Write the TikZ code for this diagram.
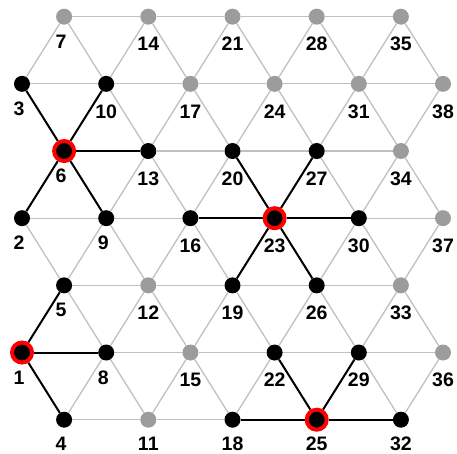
\documentclass[tikz,border=0pt]{standalone}
\usepackage{fontspec}
\setmainfont{Liberation Sans}
\usetikzlibrary{backgrounds}
\definecolor{edgegray}{HTML}{C0C0C0}
\definecolor{nodegray}{HTML}{9C9C9C}
\begin{document}
\begin{tikzpicture}[x=1pt,y=1pt,
  dot/.style={circle,inner sep=0pt,minimum size=16pt,fill=black},
  gdot/.style={circle,inner sep=0pt,minimum size=16pt,fill=nodegray},
  hub/.style={circle,inner sep=0pt,minimum size=20pt,fill=black,draw=red,line width=4pt},
  lab/.style={inner sep=0pt,font=\fontsize{19.5}{21}\selectfont\bfseries},
  gedge/.style={draw=edgegray,line width=1.3pt},
  bedge/.style={draw=black,line width=2pt}]
\useasboundingbox (0,0) rectangle (457,453);
\foreach \n/\c/\r/\s in {1/0/1/hub,2/0/3/dot,3/0/5/dot,4/1/0/dot,5/1/2/dot,6/1/4/hub,7/1/6/gdot,
  8/2/1/dot,9/2/3/dot,10/2/5/dot,11/3/0/gdot,12/3/2/gdot,13/3/4/dot,14/3/6/gdot,
  15/4/1/gdot,16/4/3/dot,17/4/5/gdot,18/5/0/dot,19/5/2/dot,20/5/4/dot,21/5/6/gdot,
  22/6/1/dot,23/6/3/hub,24/6/5/gdot,25/7/0/hub,26/7/2/dot,27/7/4/dot,28/7/6/gdot,
  29/8/1/dot,30/8/3/dot,31/8/5/gdot,32/9/0/dot,33/9/2/gdot,34/9/4/gdot,35/9/6/gdot,
  36/10/1/gdot,37/10/3/gdot,38/10/5/gdot}{
  \node[\s] (n\n) at ({22+42.1*\c},{33.3+67.17*\r}) {};
  \ifnum\r=0
    \ifnum\n<10
      \node[lab] (l\n) at ({22+42.1*\c-3},{33.3-24}) {\n};
    \else
      \node[lab] (l\n) at ({22+42.1*\c},{33.3-24}) {\n};
    \fi
  \else
    \ifnum\n<10
      \node[lab] (l\n) at ({22+42.1*\c-3},{33.3+67.17*\r-25}) {\n};
    \else
      \node[lab] (l\n) at ({22+42.1*\c},{33.3+67.17*\r-27.5}) {\n};
    \fi
  \fi
}
\begin{pgfonlayer}{background}
\foreach \a/\b in {7/14,14/21,21/28,28/35,3/10,10/17,17/24,24/31,31/38,
  6/13,13/20,20/27,27/34,2/9,9/16,16/23,23/30,30/37,5/12,12/19,19/26,26/33,
  1/8,8/15,15/22,22/29,29/36,4/11,11/18,18/25,25/32,
  1/4,1/5,2/5,2/6,3/6,3/7,4/8,5/8,5/9,6/9,6/10,7/10,
  8/11,8/12,9/12,9/13,10/13,10/14,11/15,12/15,12/16,13/16,13/17,14/17,
  15/18,15/19,16/19,16/20,17/20,17/21,18/22,19/22,19/23,20/23,20/24,21/24,
  22/25,22/26,23/26,23/27,24/27,24/28,25/29,26/29,26/30,27/30,27/31,28/31,
  29/32,29/33,30/33,30/34,31/34,31/35,32/36,33/36,33/37,34/37,34/38,35/38}
  \draw[gedge] (n\a) -- (n\b);
\foreach \a/\b in {1/4,1/5,1/8,6/3,6/10,6/13,6/2,6/9,
  23/16,23/30,23/20,23/27,23/19,23/26,25/18,25/32,25/22,25/29}
  \draw[bedge] (n\a) -- (n\b);
\end{pgfonlayer}
\end{tikzpicture}
\end{document}
